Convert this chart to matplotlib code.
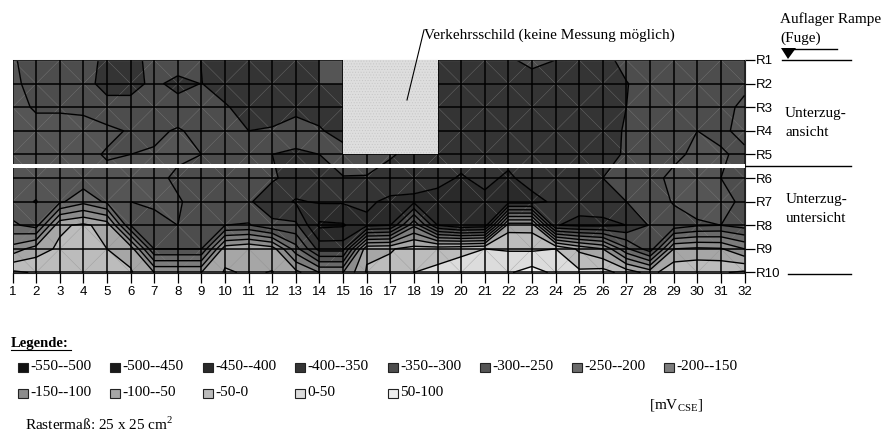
import numpy as np
import matplotlib
matplotlib.use("Agg")
import matplotlib.pyplot as plt
from matplotlib.patches import Rectangle, Polygon

W, H = 881, 434
plt.rcParams['font.family'] = ['Liberation Serif', 'DejaVu Serif']
plt.rcParams['mathtext.fontset'] = 'custom'
plt.rcParams['mathtext.rm'] = 'Liberation Serif'
plt.rcParams['hatch.linewidth'] = 0.4

columns = list(range(1, 33))
rows = [f"R{i}" for i in range(1, 11)]
levels = [-550, -500, -450, -400, -350, -300, -250, -200, -150, -100, -50, 0, 50, 100]
level_labels = ["-550--500", "-500--450", "-450--400", "-400--350", "-350--300", "-300--250", "-250--200",
                "-200--150", "-150--100", "-100--50", "-50-0", "0-50", "50-100"]
greys = ["#111111", "#1a1a1a", "#2a2a2a", "#343434", "#4d4d4d", "#555555", "#6a6a6a", "#7c7c7c",
         "#8c8c8c", "#a6a6a6", "#bcbcbc", "#dcdcdc", "#eeeeee"]

R1 = [-295, -320, -320, -325, -365, -370, -330, -320, -351, -350, -375, -380, -380, -380, -380, -380,
      -380, -380, -380, -380, -375, -358, -335, -350, -375, -365, -335, -325, -325, -325, -325, -325]
R2 = [-285, -325, -330, -335, -365, -365, -340, -365, -349, -372, -380, -385, -385, -385, -385, -385,
      -385, -385, -385, -385, -380, -375, -375, -375, -375, -365, -352, -330, -330, -330, -325, -310]
R3 = [-285, -305, -305, -308, -335, -335, -330, -330, -335, -345, -370, -375, -360, -370, -380, -380,
      -380, -380, -380, -380, -380, -380, -380, -380, -375, -370, -350, -335, -335, -330, -315, -290]
R4 = [-285, -285, -285, -285, -288, -305, -310, -295, -315, -330, -350, -345, -335, -345, -370, -380,
      -380, -380, -380, -380, -380, -380, -380, -380, -375, -370, -345, -330, -320, -300, -310, -285]
R5 = [-285, -285, -285, -285, -305, -300, -295, -290, -300, -320, -340, -350, -355, -350, -330, -335,
      -345, -365, -380, -380, -380, -380, -380, -380, -375, -365, -345, -325, -315, -285, -295, -310]
R6 = [-280, -280, -280, -280, -285, -285, -285, -310, -320, -325, -330, -345, -365, -375, -352, -352,
      -370, -380, -385, -405, -385, -410, -375, -370, -370, -350, -335, -320, -285, -285, -300, -320]
R7 = [-285, -302, -260, -215, -260, -300, -285, -295, -320, -325, -345, -375, -405, -395, -395, -392,
      -410, -410, -420, -430, -415, -420, -420, -388, -385, -380, -350, -335, -295, -285, -285, -310]
R8 = [-240, -270, -60, -40, -70, -300, -330, -300, -320, -300, -295, -340, -340, -460, -455, -410,
      -400, -210, -400, -440, -430, -70, -70, -398, -410, -410, -400, -345, -330, -305, -300, -320]
R9 = [-130, -75, -40, -40, -50, -70, -300, -300, -300, -70, -50, -75, -230, -370, -370, -60,
      -55, -30, -20, -10, 0, -5, -8, 0, -60, -100, -240, -330, -100, -90, -95, -150]
R10 = [10, -5, -45, -45, -45, -45, -100, -100, -100, -45, -55, -48, -85, -150, -150, -45,
       -30, 0, 10, 20, 30, 45, 70, 40, 10, 20, -20, -70, -10, -5, -5, 10]
potential = np.array([R1, R2, R3, R4, R5, R6, R7, R8, R9, R10], dtype=float)

fig = plt.figure(figsize=(W / 100, H / 100), dpi=100)
ax = fig.add_axes([12.5 / W, 1 - 272.5 / H, 732 / W, 212.5 / H])
x = np.array(columns)
y = np.arange(1, len(rows) + 1)

ax.contourf(x, y, potential, levels=levels, colors=greys, antialiased=True)
# faint polygon seams of the surface chart
for j in range(len(rows) - 1):
    for i in range(len(columns) - 1):
        ys = (y[j], y[j + 1]) if (i + j) % 2 == 0 else (y[j + 1], y[j])
        ax.plot((x[i], x[i + 1]), ys, color="#8a8a8a", lw=0.35, alpha=0.6, zorder=1.5)
ax.contour(x, y, potential, levels=levels, colors="black", linewidths=1.0, linestyles="solid", zorder=2)

ax.set_xlim(1, 32)
ax.set_ylim(10, 1)
ax.set_xticks(x)
ax.set_xticklabels(columns, family="Liberation Sans", fontsize=9.5)
ax.yaxis.tick_right()
ax.set_yticks(y)
ax.set_yticklabels(rows, family="Liberation Sans", fontsize=9.5)
ax.tick_params(length=7, width=0.9, pad=1.5, color="black")
ax.tick_params(axis="x", pad=3)
ax.grid(True, color="black", lw=1.1, zorder=3)
ax.set_axisbelow(False)
for s in ("right", "bottom"):
    ax.spines[s].set_color("#222222")
    ax.spines[s].set_linewidth(0.8)
ax.spines["left"].set_color("#888888")
ax.spines["left"].set_linewidth(0.6)
ax.spines["top"].set_color("#aaaaaa")
ax.spines["top"].set_linewidth(0.8)

# traffic sign block and the filled cell next to it
ax.add_patch(Rectangle((15, 1), 4, 4, facecolor="#dedede", edgecolor="#c6c6c6", hatch="......", lw=0, zorder=4))
ax.add_patch(Rectangle((14, 1), 1, 1, facecolor="#555555", lw=0, zorder=1.8))

# overlay in pixel coordinates
ov = fig.add_axes([0, 0, 1, 1], facecolor="none")
ov.set_xlim(0, W)
ov.set_ylim(H, 0)
ov.axis("off")

ov.fill_between([12, 745], 163.5, 167.5, color="white", lw=0, zorder=5)
ov.plot([424, 407], [30, 100], color="black", lw=0.8)
ov.plot([745, 851], [166, 166], color="black", lw=1)
ov.plot([782, 851], [60, 60], color="black", lw=1)
ov.plot([788, 851], [274, 274], color="black", lw=1)
ov.plot([793, 837], [48.5, 48.5], color="black", lw=1)
ov.add_patch(Polygon([[781, 48], [796, 48], [788, 59]], closed=True, color="black", lw=0))

fs = 11
ov.text(424, 35, "Verkehrsschild (keine Messung möglich)", fontsize=fs, va="center")
ov.text(780, 19, "Auflager Rampe", fontsize=fs, va="center")
ov.text(780, 38, "(Fuge)", fontsize=fs, va="center")
ov.text(785, 113, "Unterzug-", fontsize=fs, va="center")
ov.text(785, 132, "ansicht", fontsize=fs, va="center")
ov.text(786, 199, "Unterzug-", fontsize=fs, va="center")
ov.text(786, 218, "untersicht", fontsize=fs, va="center")

ov.text(11, 343, "Legende:", fontsize=10.5, fontweight="bold", va="center")
ov.plot([11, 71], [350, 350], color="black", lw=0.8)

xs = [18, 110, 203, 295, 388, 480, 572, 664]
for k, (lab, col) in enumerate(zip(level_labels, greys)):
    r = 0 if k < 8 else 1
    px = xs[k if k < 8 else k - 8]
    py = 367 if r == 0 else 393
    ov.add_patch(Rectangle((px, py - 4.5), 10, 9, facecolor=col, edgecolor="#222222", lw=0.8))
    ov.text(px + 12, py, lab, fontsize=fs, va="center")

ov.text(676, 406, r"[mV$_{\mathrm{CSE}}$]", fontsize=fs, va="center", ha="center")
ov.text(25, 424, r"Rastermaß: 25 x 25 cm$^{2}$", fontsize=fs, va="center")

fig.savefig("out.png", dpi=100)
